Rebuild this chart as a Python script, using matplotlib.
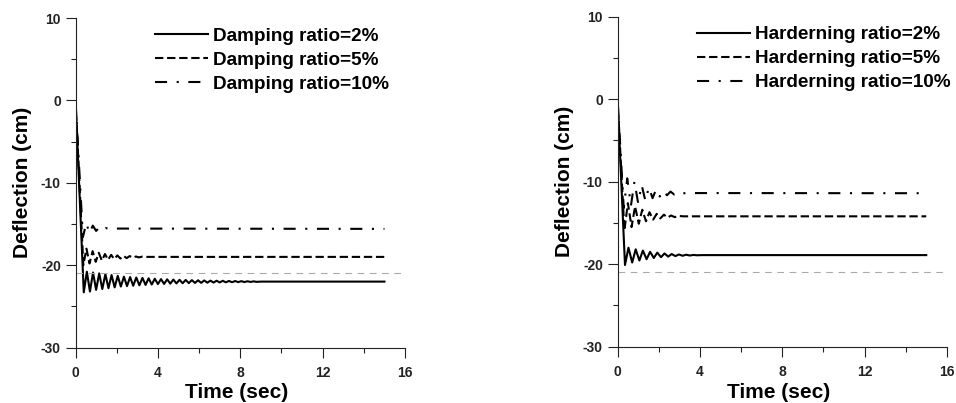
import matplotlib
matplotlib.use('Agg')
import matplotlib.pyplot as plt
from matplotlib.ticker import MultipleLocator

plt.rcParams['font.family'] = ['Liberation Sans', 'DejaVu Sans']
plt.rcParams['font.weight'] = 'bold'
plt.rcParams['axes.unicode_minus'] = False

# --- damping ratio study (left) ---
t_damp_2 = [0, 0.4, 0.55, 0.7, 0.85, 1.0, 1.15, 1.3, 1.45, 1.6, 1.75, 1.9, 2.05, 2.2,
            2.35, 2.5, 2.65, 2.8, 2.95, 3.1, 3.25, 3.4, 3.55, 3.7, 3.85, 4.0, 4.15,
            4.3, 4.45, 4.6, 4.75, 4.9, 5.05, 5.2, 5.35, 5.5, 5.65, 5.8, 5.95, 6.1,
            6.25, 6.4, 6.55, 6.7, 6.85, 7.0, 7.15, 7.3, 7.45, 7.6, 7.75, 7.9, 8.05,
            8.2, 8.35, 8.5, 8.65, 8.8, 9.0, 15.0]
y_damp_2 = [0, -23.3, -20.8, -23.2, -20.9, -23.0, -21.0, -22.9, -21.1, -22.8, -21.2,
            -22.7, -21.3, -22.6, -21.4, -22.55, -21.45, -22.5, -21.5, -22.45, -21.55,
            -22.4, -21.6, -22.35, -21.65, -22.3, -21.7, -22.28, -21.72, -22.25, -21.75,
            -22.22, -21.78, -22.2, -21.8, -22.18, -21.82, -22.16, -21.84, -22.15, -21.86,
            -22.13, -21.88, -22.12, -21.89, -22.1, -21.9, -22.09, -21.92, -22.08, -21.93,
            -22.06, -21.95, -22.05, -21.96, -22.04, -21.97, -22.03, -22.0, -22.0]

t_damp_5 = [0, 0.38, 0.53, 0.68, 0.83, 0.98, 1.13, 1.28, 1.43, 1.58, 1.73, 1.88, 2.03,
            2.18, 2.33, 2.48, 2.63, 2.78, 2.93, 3.08, 3.23, 3.4, 15.0]
y_damp_5 = [0, -20.0, -18.0, -19.8, -18.3, -19.6, -18.5, -19.45, -18.65, -19.35, -18.75,
            -19.27, -18.82, -19.2, -18.87, -19.15, -18.9, -19.1, -18.95, -19.06, -18.97,
            -19.0, -19.0]

t_damp_10 = [0, 0.36, 0.52, 0.68, 0.84, 1.0, 1.16, 1.32, 1.48, 1.64, 1.8, 15.0]
y_damp_10 = [0, -16.6, -14.9, -16.1, -15.2, -15.85, -15.4, -15.7, -15.5, -15.62, -15.56, -15.6]

# --- hardening ratio study (right) ---
t_hard_2 = [0, 0.36, 0.53, 0.71, 0.88, 1.06, 1.23, 1.41, 1.58, 1.76, 1.93, 2.11, 2.28,
            2.46, 2.63, 2.81, 2.98, 3.16, 3.33, 3.51, 3.68, 3.86, 4.1, 15.0]
y_hard_2 = [0, -20.1, -18.0, -19.8, -18.2, -19.55, -18.35, -19.4, -18.5, -19.25, -18.6,
            -19.15, -18.7, -19.08, -18.77, -19.02, -18.82, -18.98, -18.85, -18.95, -18.88,
            -18.92, -18.9, -18.9]

t_hard_5 = [0, 0.33, 0.5, 0.68, 0.85, 1.03, 1.2, 1.38, 1.55, 1.73, 1.9, 2.08, 2.25,
            2.43, 2.6, 2.78, 2.95, 3.2, 15.0]
y_hard_5 = [0, -15.9, -12.6, -15.5, -13.0, -15.1, -13.4, -14.8, -13.7, -14.6, -13.9,
            -14.45, -14.0, -14.35, -14.1, -14.3, -14.15, -14.2, -14.2]

t_hard_10 = [0, 0.3, 0.47, 0.65, 0.82, 1.0, 1.17, 1.35, 1.52, 1.7, 1.87, 2.05, 2.22,
             2.4, 2.57, 2.75, 2.92, 3.1, 3.3, 15.0]
y_hard_10 = [0, -13.2, -9.6, -12.9, -10.0, -12.6, -10.4, -12.3, -10.7, -12.0, -10.95,
             -11.8, -11.1, -11.65, -11.2, -11.55, -11.3, -11.45, -11.38, -11.4]

ref_level = -21.0
ratios = ['2%', '5%', '10%']

styles = ['-', (0, (4, 1.8)), (0, (5.8, 4.6, 1.0, 4.6))]


def draw_panel(ax, series, prefix):
    for (t, y), ls, r in zip(series, styles, ratios):
        ax.plot(t, y, color='black', lw=1.5, linestyle=ls, label=prefix + r)
    ax.plot([0, 16], [ref_level, ref_level], color='#aaaaaa', lw=0.8,
            linestyle=(0, (6, 5)))

    ax.set_xlim(0, 16)
    ax.set_ylim(-30, 10)
    ax.xaxis.set_major_locator(MultipleLocator(4))
    ax.xaxis.set_minor_locator(MultipleLocator(2))
    ax.yaxis.set_major_locator(MultipleLocator(10))
    ax.yaxis.set_minor_locator(MultipleLocator(5))
    for side in ['top', 'right']:
        ax.spines[side].set_visible(False)
    for side in ['left', 'bottom']:
        ax.spines[side].set_linewidth(0.8)
        ax.spines[side].set_color('#222222')
    ax.tick_params(which='major', length=7, width=0.8, color='#222222',
                   labelsize=10, labelcolor='#222222')
    ax.tick_params(axis='x', which='major', pad=6.5)
    ax.tick_params(axis='y', which='major', pad=3.5)
    ax.tick_params(which='minor', length=3.5, width=0.8, color='#222222')
    for lab in ax.get_xticklabels() + ax.get_yticklabels():
        lab.set_fontweight('bold')

    ax.set_xlabel('Time (sec)', fontsize=15, fontweight='bold')
    ax.set_ylabel('Deflection (cm)', fontsize=15, fontweight='bold')
    ax.xaxis.set_label_coords(0.49, -0.109)
    ax.yaxis.set_label_coords(-0.133, 0.5)

    ax.legend(loc='upper left', bbox_to_anchor=(0.241, 0.971), frameon=False,
              handlelength=2.8, handletextpad=0.3,
              labelspacing=0.36, borderpad=0, borderaxespad=0,
              prop={'weight': 'bold', 'size': 13.6})


fig = plt.figure(figsize=(9.56, 4.03), dpi=100)
ax1 = fig.add_axes([0.079, 0.1377, 0.3447, 0.8176])
ax2 = fig.add_axes([0.646, 0.1397, 0.3444, 0.819])

draw_panel(ax1, [(t_damp_2, y_damp_2), (t_damp_5, y_damp_5), (t_damp_10, y_damp_10)],
           'Damping ratio=')
draw_panel(ax2, [(t_hard_2, y_hard_2), (t_hard_5, y_hard_5), (t_hard_10, y_hard_10)],
           'Harderning ratio=')

fig.savefig('out.png', dpi=100)
